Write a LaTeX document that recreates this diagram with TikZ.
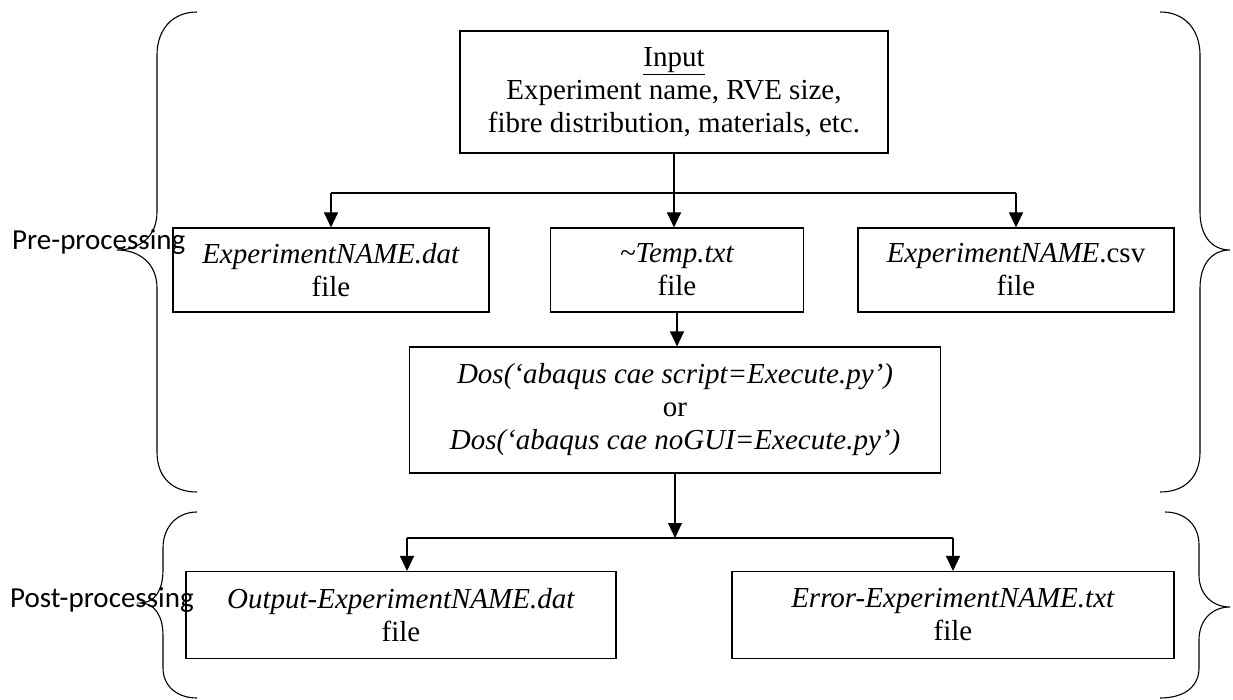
\documentclass[tikz,border=0pt]{standalone}
\usepackage{fontspec}
\setmainfont{Liberation Serif}
\newfontfamily\labelfont{Carlito}
\usetikzlibrary{arrows.meta}
\begin{document}
\begin{tikzpicture}[x=1pt,y=-1pt,
  box/.style={draw, line width=1.1pt, align=center, inner sep=0pt, font=\fontsize{29}{33}\selectfont},
  conn/.style={line width=1.1pt},
  arr/.style={line width=1.1pt, -{Triangle[length=15pt,width=14pt]}},
  brace/.style={line width=1.1pt},
  lbl/.style={font=\labelfont\fontsize{29}{33}\selectfont, anchor=base west, inner sep=0pt}]
\useasboundingbox (0,0) rectangle (1233,700);
% boxes
\node[box, minimum width=428pt, minimum height=122pt] (input) at (674,92)
  {\underline{Input}\\Experiment name, RVE size,\\fibre distribution, materials, etc.};
\node[box, minimum width=316pt, minimum height=84pt] (dat) at (331,270)
  {\textit{ExperimentNAME.dat}\\file};
\node[box, minimum width=253pt, minimum height=84pt] (temp) at (677,270)
  {\textit{\textasciitilde Temp.txt}\\file};
\node[box, minimum width=316pt, minimum height=84pt] (csv) at (1016,270)
  {\textit{ExperimentNAME}.csv\\file};
\node[box, minimum width=531pt, minimum height=126pt] (dos) at (675,410)
  {\textit{Dos(‘abaqus cae script=Execute.py’)}\\or\\\textit{Dos(‘abaqus cae noGUI=Execute.py’)}};
\node[box, minimum width=430pt, minimum height=87pt] (out) at (401,615)
  {\textit{Output-ExperimentNAME.dat}\\file};
\node[box, minimum width=442pt, minimum height=87pt] (err) at (953,615)
  {\textit{Error-ExperimentNAME.txt}\\file};
% connectors
\coordinate (s1) at (674,193);
\coordinate (s2) at (675,538);
\draw[conn] (dat.north |- s1) -- (csv.north |- s1);
\draw[arr] (dat.north |- s1) -- (dat.north);
\draw[arr] (csv.north |- s1) -- (csv.north);
\draw[arr] (input.south) -- (input.south |- temp.north);
\draw[arr] (temp.south) -- (temp.south |- dos.north);
\draw[arr] (dos.south) -- (dos.south |- s2);
\draw[conn] ([xshift=6pt]out.north |- s2) -- (err.north |- s2);
\draw[arr] ([xshift=6pt]out.north |- s2) -- ([xshift=6pt]out.north);
\draw[arr] (err.north |- s2) -- (err.north);
% braces
\draw[brace] (197,12) .. controls (172,12) and (157,30) .. (157,55) -- (157,212)
  .. controls (157,236) and (140,250) .. (117,250)
  .. controls (140,250) and (157,264) .. (157,288) -- (157,452)
  .. controls (157,477) and (172,492) .. (197,492);
\draw[brace] (197,512) .. controls (177,512) and (163,527) .. (163,548) -- (163,570)
  .. controls (163,590) and (155,603) .. (140,603)
  .. controls (155,603) and (163,616) .. (163,636) -- (163,668)
  .. controls (163,686) and (177,698) .. (197,698);
\draw[brace] (1160,12) .. controls (1185,12) and (1200,30) .. (1200,55) -- (1200,212)
  .. controls (1200,236) and (1212,250) .. (1230,250)
  .. controls (1212,250) and (1200,264) .. (1200,288) -- (1200,452)
  .. controls (1200,477) and (1185,492) .. (1160,492);
\draw[brace] (1165,512) .. controls (1185,512) and (1199,525) .. (1199,545) -- (1199,575)
  .. controls (1199,594) and (1212,607) .. (1230,607)
  .. controls (1212,607) and (1199,620) .. (1199,640) -- (1199,668)
  .. controls (1199,686) and (1185,698) .. (1160,698);
% labels
\node[lbl] (pre) at (12,250) {Pre-processing};
\node[lbl] (post) at (10,607) {Post-processing};
\end{tikzpicture}
\end{document}
